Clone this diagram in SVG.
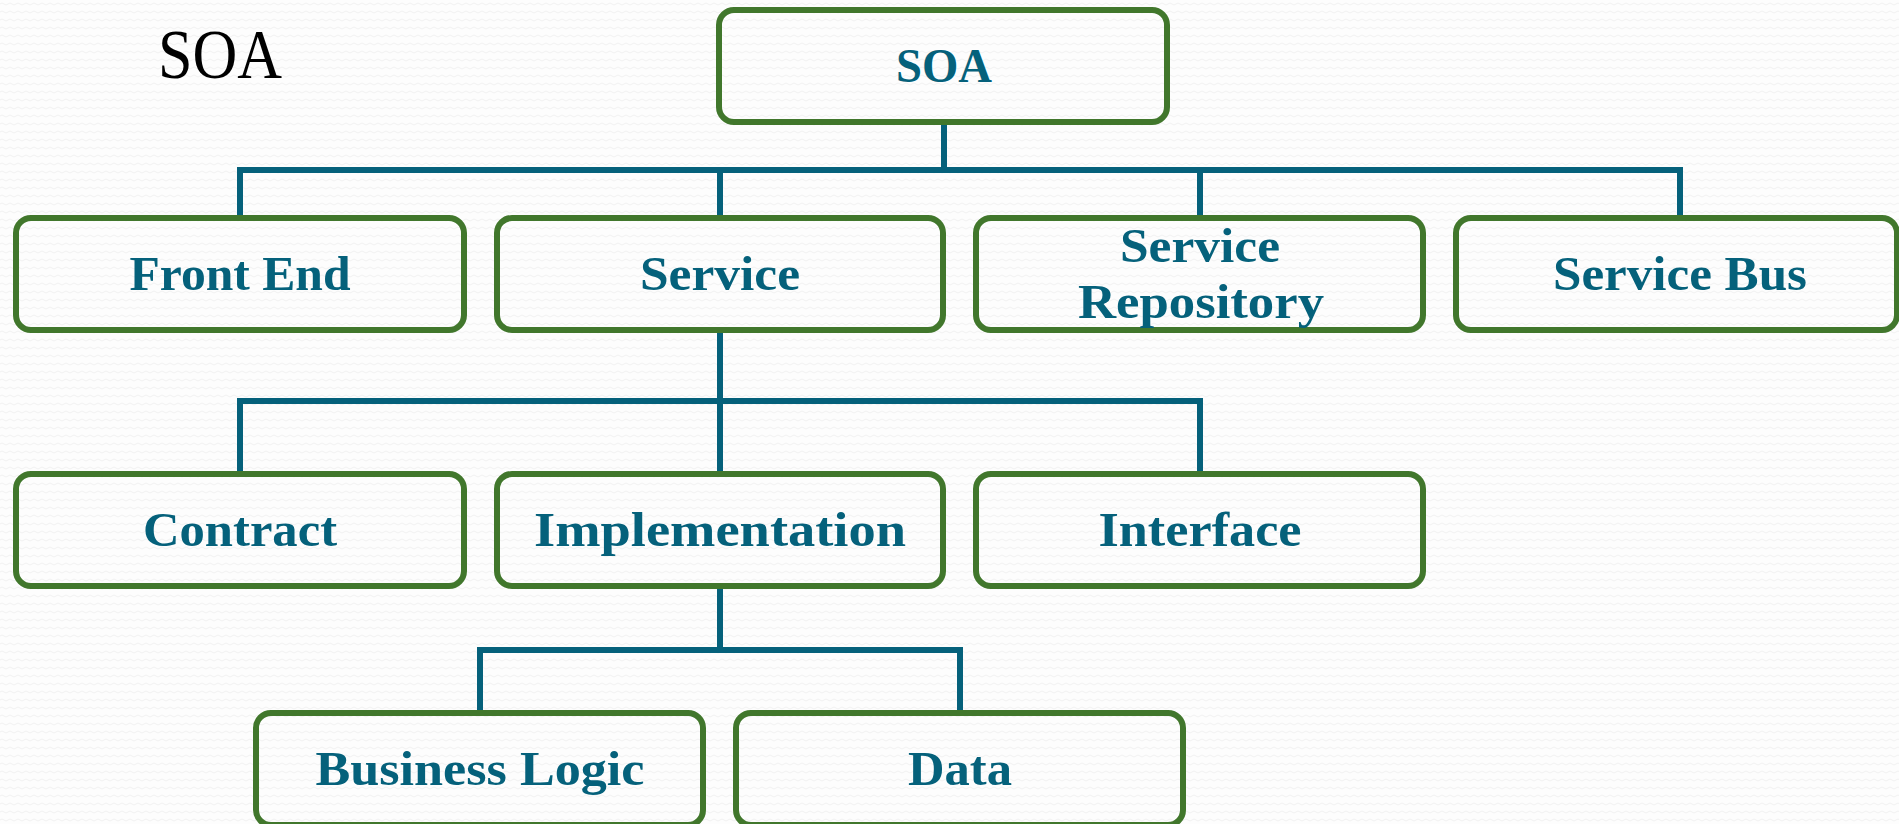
<svg xmlns="http://www.w3.org/2000/svg" width="1899" height="824" viewBox="0 0 1899 824">
<defs>
<pattern id="bgp" width="8" height="8" patternUnits="userSpaceOnUse">
<rect width="8" height="8" fill="#fdfdfd"/>
<path d="M0 4 Q2 2 4 4 T8 4" fill="none" stroke="#f1f1f1" stroke-width="1"/>
</pattern>
<style>
.box{fill:none;stroke:#41772c;stroke-width:6}
.lbl{font-family:"Liberation Serif","Times New Roman",serif;font-weight:bold;font-size:49px;fill:#05617b;text-anchor:middle}
.con{fill:none;stroke:#05617b;stroke-width:6;stroke-linejoin:miter;stroke-linecap:butt}
.title{font-family:"Liberation Serif","Times New Roman",serif;font-size:70px;fill:#000}
</style>
</defs>
<rect width="1899" height="824" fill="url(#bgp)"/>
<text class="title" x="158" y="78" textLength="124" lengthAdjust="spacingAndGlyphs">SOA</text>

<g id="connectors">
<path class="con" d="M944 122 V170"/>
<path class="con" d="M240 218 V170 H1680 V218"/>
<path class="con" d="M720 170 V218"/>
<path class="con" d="M1200 170 V218"/>
<path class="con" d="M720 330 V473"/>
<path class="con" d="M240 473 V401 H1200 V473"/>
<path class="con" d="M720 586 V650"/>
<path class="con" d="M480 713 V650 H960 V713"/>
</g>

<g id="n-soa"><rect class="box" x="719" y="10" width="448" height="112" rx="15"/><text class="lbl" x="944" y="82" textLength="96" lengthAdjust="spacingAndGlyphs">SOA</text></g>

<g id="n-frontend"><rect class="box" x="16" y="218" width="448" height="112" rx="15"/><text class="lbl" x="240" y="290" textLength="221" lengthAdjust="spacingAndGlyphs">Front End</text></g>
<g id="n-service"><rect class="box" x="497" y="218" width="446" height="112" rx="15"/><text class="lbl" x="720" y="290" textLength="160" lengthAdjust="spacingAndGlyphs">Service</text></g>
<g id="n-repository"><rect class="box" x="976" y="218" width="447" height="112" rx="15"/><text class="lbl" x="1200" y="262" textLength="160" lengthAdjust="spacingAndGlyphs">Service</text><text class="lbl" x="1201" y="318" textLength="246" lengthAdjust="spacingAndGlyphs">Repository</text></g>
<g id="n-bus"><rect class="box" x="1456" y="218" width="441" height="112" rx="15"/><text class="lbl" x="1680" y="290" textLength="254" lengthAdjust="spacingAndGlyphs">Service Bus</text></g>

<g id="n-contract"><rect class="box" x="16" y="474" width="448" height="112" rx="15"/><text class="lbl" x="240" y="546" textLength="194" lengthAdjust="spacingAndGlyphs">Contract</text></g>
<g id="n-implementation"><rect class="box" x="497" y="474" width="446" height="112" rx="15"/><text class="lbl" x="720" y="546" textLength="372" lengthAdjust="spacingAndGlyphs">Implementation</text></g>
<g id="n-interface"><rect class="box" x="976" y="474" width="447" height="112" rx="15"/><text class="lbl" x="1200" y="546" textLength="203" lengthAdjust="spacingAndGlyphs">Interface</text></g>

<g id="n-business"><rect class="box" x="256" y="713" width="447" height="112" rx="15"/><text class="lbl" x="480" y="785" textLength="329" lengthAdjust="spacingAndGlyphs">Business Logic</text></g>
<g id="n-data"><rect class="box" x="736" y="713" width="447" height="112" rx="15"/><text class="lbl" x="960" y="785" textLength="104" lengthAdjust="spacingAndGlyphs">Data</text></g>
</svg>
